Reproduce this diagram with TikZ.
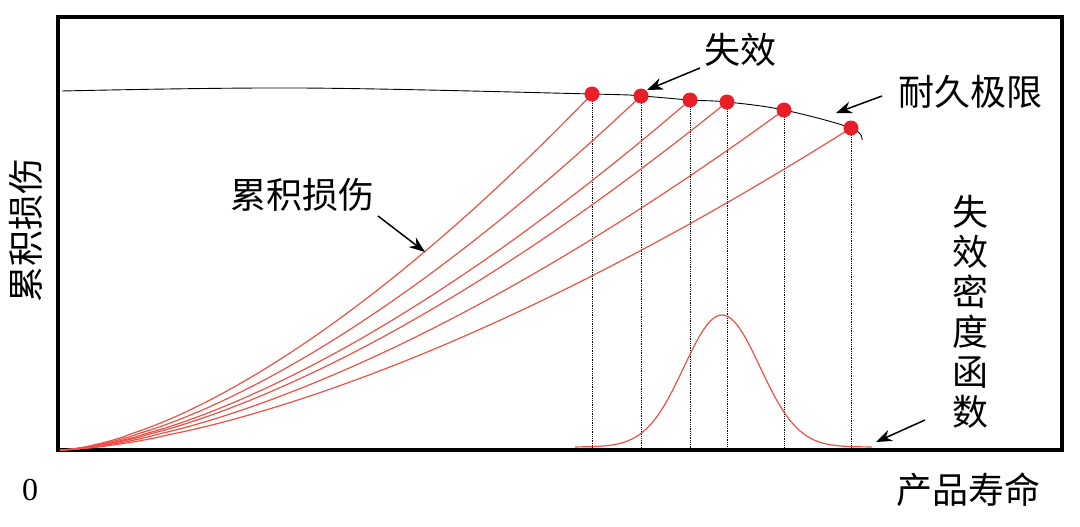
\documentclass[tikz,border=0pt]{standalone}
\usepackage{fontspec}
\setmainfont{Liberation Serif}
\newfontfamily\cjk{Noto Sans CJK SC}
\usetikzlibrary{arrows.meta,calc}
\definecolor{cr}{RGB}{238,80,70}
\definecolor{dot}{RGB}{232,30,40}
\begin{document}
\begin{tikzpicture}[x=1pt,y=-1pt,
  lbl/.style={font=\cjk\fontsize{36}{40}\selectfont,inner sep=0pt},
  arr/.style={-{Stealth[length=16pt,width=12pt]},line width=1.5pt},
  dmg/.style={cr,line width=1.2pt},
  vl/.style={densely dotted,line width=0.8pt}]
\useasboundingbox (0,0) rectangle (1080,527);
\draw[line width=3.5pt] (58,17) rectangle (1062,450);
\draw[line width=0.9pt] plot[smooth,tension=0.6] coordinates {(62,91) (300,88) (592,94) (641,96) (690,100) (727,102) (784,110) (851,128) (862,140)};
\foreach \xd/\yd [count=\i] in {592/94,641/96,690/100,727/102,784/110,851/128}{
  \coordinate (d\i) at (\xd,\yd);
  \coordinate (b\i) at (\xd,450);
  \draw[vl] (d\i) -- (b\i);
  \draw[dmg] plot[domain=0:1,samples=60,smooth] ({60+(\xd-60)*\x},{450-(450-\yd)*(\x)^1.55});
}
\draw[dmg] plot[domain=575:872,samples=100,smooth] (\x,{447-132*exp(-((\x-722)/38)^2/2)});
\foreach \i in {1,...,6} \fill[dot] (d\i) circle (7.5);
\node[lbl] (sx) at (740,50) {失效};
\node[lbl] (nj) at (970,92) {耐久极限};
\node[lbl] (lj) at (302,195) {累积损伤};
\node[lbl,align=center] (md) at (970,312) {失\\效\\密\\度\\函\\数};
\node[lbl,rotate=90] (ya) at (26,230) {累积损伤};
\node[font=\fontsize{32}{36}\selectfont,inner sep=0pt] (zero) at (30,490) {0};
\node[lbl] (xa) at (968,490) {产品寿命};
\coordinate (a1) at (700,68);
\coordinate (a2) at (882,96);
\coordinate (e2) at (836,113);
\coordinate (a3) at (378,216);
\coordinate (e3) at (425,252);
\coordinate (a4) at (925,420);
\coordinate (e4) at (876,442);
\draw[arr] (a1) -- ($(d2)+(6,-6)$);
\draw[arr] (a2) -- (e2);
\draw[arr] (a3) -- (e3);
\draw[arr] (a4) -- (e4);
\end{tikzpicture}
\end{document}
